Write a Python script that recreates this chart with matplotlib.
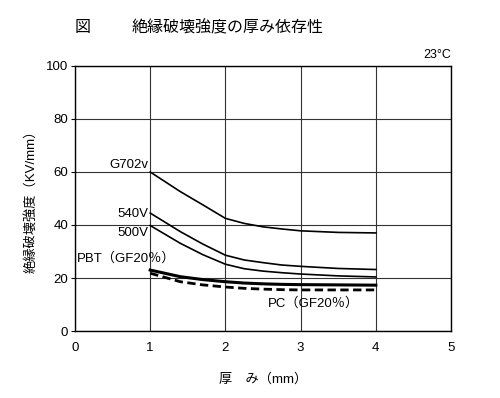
import numpy as np
import matplotlib
matplotlib.use("Agg")
import matplotlib.pyplot as plt

plt.rcParams['font.family'] = ['Liberation Sans', 'Noto Sans CJK JP', 'DejaVu Sans']

# thickness (mm)
thickness = [1.0, 1.4, 1.7, 2.0, 2.25, 2.5, 2.75, 3.0, 3.5, 4.0]

# dielectric strength (KV/mm)
g702v = [60.0, 52.6, 47.6, 42.5, 40.6, 39.3, 38.5, 37.8, 37.2, 37.0]
v540 = [44.5, 37.5, 32.8, 28.6, 26.8, 25.8, 24.9, 24.4, 23.6, 23.2]
v500 = [39.8, 33.1, 28.8, 25.2, 23.5, 22.6, 22.0, 21.5, 20.8, 20.4]
pbt = [23.0, 20.5, 19.4, 18.6, 18.1, 17.8, 17.6, 17.5, 17.4, 17.3]
pc = [21.8, 18.6, 17.4, 16.6, 16.1, 15.8, 15.6, 15.5, 15.5, 15.5]

x_ticks = [0, 1, 2, 3, 4, 5]
y_ticks = [0, 20, 40, 60, 80, 100]

fig = plt.figure(figsize=(5.0, 3.98), dpi=100)
ax = fig.add_axes([0.15, 0.1683, 0.752, 0.666])

ax.plot(thickness, g702v, color='black', lw=1.2)
ax.plot(thickness, v540, color='black', lw=1.2)
ax.plot(thickness, v500, color='black', lw=1.2)
ax.plot(thickness, pbt, color='black', lw=2.2)
ax.plot(thickness, pc, color='black', lw=2.0, linestyle=(0, (3, 1.6)))

ax.set_xlim(0, 5)
ax.set_ylim(0, 100)
ax.set_xticks(x_ticks)
ax.set_yticks(y_ticks)
ax.grid(True, color='#333333', lw=0.8)
ax.set_axisbelow(True)
for s in ax.spines.values():
    s.set_linewidth(1.0)
ax.tick_params(axis='x', length=0, pad=8, labelsize=9.5)
ax.tick_params(axis='y', length=3, pad=2, labelsize=9.5)

# curve labels
ax.text(0.97, 62.5, 'G702v', ha='right', va='center', fontsize=9.5)
ax.text(0.97, 44.0, '540V', ha='right', va='center', fontsize=9.5)
ax.text(0.97, 37.0, '500V', ha='right', va='center', fontsize=9.5)
ax.text(0.03, 27.5, 'PBT（GF20％）', ha='left', va='center', fontsize=9.5)
ax.text(2.57, 10.5, 'PC（GF20％）', ha='left', va='center', fontsize=9.5)

ax.text(5.0, 102, '23°C', ha='right', va='bottom', fontsize=9)

ax.set_ylabel('絶縁破壊強度（KV/mm）', fontsize=9.5, labelpad=5)
ax.set_xlabel('厚　み（mm）', fontsize=9.5, labelpad=14)

fig.text(0.15, 0.93, '図', fontsize=11.5, va='center', ha='left')
fig.text(0.264, 0.93, '絶縁破壊強度の厚み依存性', fontsize=11.5, va='center', ha='left')

fig.savefig('out.png', dpi=100)
